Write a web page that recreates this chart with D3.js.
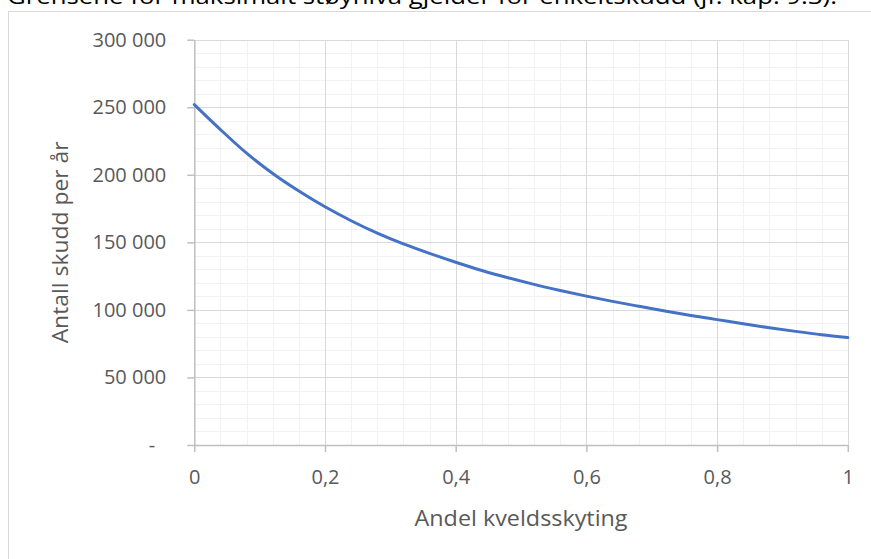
<!DOCTYPE html>
<html>
<head>
<meta charset="utf-8">
<script src="https://cdn.jsdelivr.net/npm/d3@7"></script>
<style>
  body { margin: 0; background: #fff; }
  svg { display: block; font-family: "Open Sans", sans-serif; }
</style>
</head>
<body>
<svg id="chart" width="871" height="559"></svg>
<script>
// values
var shares = [0, 0.04, 0.08, 0.12, 0.16, 0.2, 0.24, 0.28, 0.32, 0.36, 0.4, 0.44, 0.48,
              0.52, 0.56, 0.6, 0.64, 0.68, 0.72, 0.76, 0.8, 0.84, 0.88, 0.92, 0.96, 1];
var shots = [252000, 233500, 216000, 201000, 188000, 176300, 166000, 156800, 148800, 141800,
             135300, 129200, 123800, 118900, 114400, 110200, 106300, 102700, 99200, 95900,
             92800, 89700, 86800, 84100, 81600, 79500];
var xTicks = [0, 0.2, 0.4, 0.6, 0.8, 1];
var yTicks = [0, 50000, 100000, 150000, 200000, 250000, 300000];
var captionText = "Grensene for maksimalt støynivå gjelder for enkeltskudd (jf. kap. 9.3).";
var xTitle = "Andel kveldsskyting";
var yTitle = "Antall skudd per år";

var svg = d3.select("#chart");
var plot = {left: 194.3, right: 847.8, top: 39.7, bottom: 445};
var labelColor = "#595959";

var nb = d3.formatLocale({decimal: ",", thousands: " ", grouping: [3], currency: ["", ""]});
var fmtY = nb.format(",");
var fmtX = nb.format(".1~f");

var x = d3.scaleLinear().domain([0, 1]).range([plot.left, plot.right]);
var y = d3.scaleLinear().domain([0, 300000]).range([plot.bottom, plot.top]);

// caption line, cut off at the top just like in the source
svg.append("text")
    .attr("x", 7).attr("y", 4)
    .attr("font-size", "21px")
    .attr("fill", "#000")
    .attr("textLength", 830)
    .attr("lengthAdjust", "spacingAndGlyphs")
    .text(captionText);

// chart frame, runs past the right and bottom edge
svg.append("rect")
    .attr("x", 8.5).attr("y", 11.5)
    .attr("width", 900).attr("height", 600)
    .attr("fill", "none")
    .attr("stroke", "#d9d9d9");

// minor grid
var minorX = d3.range(0, 26).map(function (i) { return i / 25; });
var minorY = d3.range(0, 31).map(function (i) { return i * 10000; });
var grid = svg.append("g").attr("shape-rendering", "crispEdges");
grid.selectAll("line.mx").data(minorX).enter().append("line")
    .attr("class", "mx")
    .attr("x1", function (d) { return Math.round(x(d)) + 0.5; })
    .attr("x2", function (d) { return Math.round(x(d)) + 0.5; })
    .attr("y1", plot.top).attr("y2", plot.bottom)
    .attr("stroke", "#f2f2f2").attr("stroke-width", 1.3);
grid.selectAll("line.my").data(minorY).enter().append("line")
    .attr("class", "my")
    .attr("y1", function (d) { return Math.round(y(d)) + 0.5; })
    .attr("y2", function (d) { return Math.round(y(d)) + 0.5; })
    .attr("x1", plot.left).attr("x2", plot.right)
    .attr("stroke", "#f2f2f2").attr("stroke-width", 1.3);

// major grid
grid.selectAll("line.gx").data(xTicks).enter().append("line")
    .attr("class", "gx")
    .attr("x1", function (d) { return Math.round(x(d)) + 0.5; })
    .attr("x2", function (d) { return Math.round(x(d)) + 0.5; })
    .attr("y1", plot.top).attr("y2", plot.bottom)
    .attr("stroke", "#d9d9d9").attr("stroke-width", 1.3);
grid.selectAll("line.gy").data(yTicks).enter().append("line")
    .attr("class", "gy")
    .attr("y1", function (d) { return Math.round(y(d)) + 0.5; })
    .attr("y2", function (d) { return Math.round(y(d)) + 0.5; })
    .attr("x1", plot.left).attr("x2", plot.right)
    .attr("stroke", "#d9d9d9").attr("stroke-width", 1.3);

// axes
var xAxis = d3.axisBottom(x).tickValues(xTicks).tickFormat(fmtX)
    .tickSize(7).tickSizeOuter(0).tickPadding(18);
var yAxis = d3.axisLeft(y).tickValues(yTicks)
    .tickFormat(function (d) { return d === 0 ? "-" : fmtY(d); })
    .tickSize(7).tickSizeOuter(0).tickPadding(21);

var gx = svg.append("g")
    .attr("transform", "translate(0," + plot.bottom + ")")
    .call(xAxis);
var gy = svg.append("g")
    .attr("transform", "translate(" + plot.left + ",0)")
    .call(yAxis);

[gx, gy].forEach(function (g) {
    g.select(".domain").attr("stroke", "#bfbfbf").attr("stroke-width", 1.5);
    g.selectAll(".tick line").attr("stroke", "#bfbfbf").attr("stroke-width", 1.5);
    g.selectAll(".tick text")
        .attr("fill", labelColor)
        .attr("font-size", "20px")
        .attr("font-family", "'Open Sans', sans-serif");
});
gy.selectAll(".tick text").filter(function (d) { return d === 0; }).attr("dx", -11);

// axis titles
svg.append("text")
    .attr("x", (plot.left + plot.right) / 2).attr("y", 525.5)
    .attr("text-anchor", "middle")
    .attr("font-size", "22.5px")
    .attr("fill", labelColor)
    .attr("textLength", 213)
    .attr("lengthAdjust", "spacingAndGlyphs")
    .text(xTitle);
svg.append("text")
    .attr("transform", "translate(68," + (plot.top + plot.bottom) / 2 + ") rotate(-90)")
    .attr("text-anchor", "middle")
    .attr("font-size", "22.5px")
    .attr("fill", labelColor)
    .attr("textLength", 202)
    .attr("lengthAdjust", "spacingAndGlyphs")
    .text(yTitle);

// the curve
var line = d3.line()
    .x(function (d, i) { return x(shares[i]); })
    .y(function (d) { return y(d); })
    .curve(d3.curveMonotoneX);

svg.append("path")
    .datum(shots)
    .attr("d", line)
    .attr("fill", "none")
    .attr("stroke", "#4472c4")
    .attr("stroke-width", 3)
    .attr("stroke-linecap", "round");
</script>
</body>
</html>
